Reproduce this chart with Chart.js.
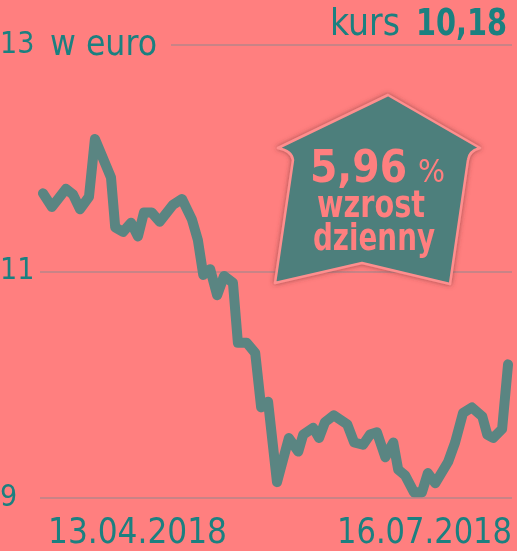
<!DOCTYPE html>
<html>
<head>
<meta charset="utf-8">
<script src="https://cdn.jsdelivr.net/npm/chart.js@4/dist/chart.umd.min.js"></script>
<style>
  html, body { margin: 0; padding: 0; background: #ff7f7f; }
  #wrap { position: relative; width: 517px; height: 551px; overflow: hidden; background: #ff7f7f; }
  #nakladka { position: absolute; left: 0; top: 0; }
</style>
</head>
<body>
<div id="wrap">
  <canvas id="wykres" width="517" height="551"></canvas>
  <svg id="nakladka" width="517" height="551">
    <defs>
      <filter id="cien" x="-20%" y="-20%" width="140%" height="140%">
        <feDropShadow dx="0" dy="0" stdDeviation="2.5" flood-color="#7a3838" flood-opacity="0.7"/>
      </filter>
    </defs>
    <rect x="38" y="38" width="133" height="16" fill="#ff7f7f"/>
    <g font-family="DejaVu Sans Condensed, DejaVu Sans, sans-serif" fill="#1b8080">
      <text x="50" y="55" font-size="36" font-weight="200" textLength="107" lengthAdjust="spacingAndGlyphs">w euro</text>
      <text x="330" y="35" font-size="38" textLength="70" lengthAdjust="spacingAndGlyphs">kurs</text>
      <text x="416" y="35" font-size="37" font-weight="700" textLength="91" lengthAdjust="spacingAndGlyphs">10,18</text>
      <text x="48" y="543" font-size="36" textLength="179" lengthAdjust="spacingAndGlyphs">13.04.2018</text>
      <text x="337" y="543" font-size="36" textLength="175" lengthAdjust="spacingAndGlyphs">16.07.2018</text>
    </g>
    <path d="M388,95 L480,148 Q469,151 468,160 L450,284 L362,263 L275,283 L293,160 Q292,151 278,148 Z"
          fill="#4d7f7b" stroke="#ff8e8e" stroke-width="2.5" stroke-linejoin="round" filter="url(#cien)"/>
    <g font-family="DejaVu Sans Condensed, DejaVu Sans, sans-serif" fill="#ff7f7f" font-weight="700">
      <text x="310" y="182" font-size="44" textLength="97" lengthAdjust="spacingAndGlyphs">5,96</text>
      <text x="418" y="182" font-size="32" font-weight="400" textLength="27" lengthAdjust="spacingAndGlyphs">%</text>
      <text x="317" y="217" font-size="38" textLength="108" lengthAdjust="spacingAndGlyphs">wzrost</text>
      <text x="313" y="250" font-size="38" textLength="122" lengthAdjust="spacingAndGlyphs">dzienny</text>
    </g>
  </svg>
</div>
<script>
"use strict";
// dni od 13.04.2018
const dni = [0, 1.8, 4.65, 6.07, 7.5, 9.3, 10.5, 13.75, 14.6, 16.2, 17.8, 19.2, 20.4, 22.0, 23.6, 26.3, 28.1, 30.1, 31.3, 32.4, 33.8, 35.2, 36.6, 38.4, 39.4, 41.2, 42.9, 44.1, 45.5, 47.3, 49.7, 51.6, 52.6, 54.6, 55.8, 57.0, 58.8, 61.5, 62.9, 64.7, 66.1, 67.5, 69.2, 70.8, 71.8, 73.2, 75.0, 76.6, 77.8, 79.3, 81.9, 83.3, 84.9, 86.7, 88.8, 89.8, 91.0, 92.8, 94];
const kursy = [11.69, 11.57, 11.73, 11.68, 11.55, 11.66, 12.17, 11.83, 11.39, 11.35, 11.43, 11.31, 11.52, 11.52, 11.44, 11.59, 11.64, 11.46, 11.28, 10.97, 11.02, 10.79, 10.96, 10.90, 10.37, 10.37, 10.28, 9.80, 9.85, 9.14, 9.53, 9.41, 9.56, 9.62, 9.53, 9.67, 9.73, 9.65, 9.49, 9.47, 9.56, 9.58, 9.36, 9.49, 9.25, 9.20, 9.05, 9.05, 9.22, 9.13, 9.32, 9.49, 9.75, 9.80, 9.72, 9.56, 9.53, 9.61, 10.18];
const podzialka = [9, 11, 13];

const punkty = dni.map((d, i) => ({ x: d, y: kursy[i] }));

new Chart(document.querySelector("#wykres"), {
    type: "line",
    data: {
        datasets: [
            {
                data: punkty,
                borderColor: "#5a8582",
                borderWidth: 10,
                borderJoinStyle: "round",
                borderCapStyle: "round",
                pointRadius: 0,
                tension: 0,
                clip: false,
            },
        ],
    },
    options: {
        responsive: false,
        animation: false,
        layout: { padding: { top: 45, bottom: 53, right: 5, left: 0 } },
        plugins: { legend: { display: false }, tooltip: { enabled: false } },
        scales: {
            x: {
                type: "linear",
                min: -0.6,
                max: 94.8,
                display: false,
            },
            y: {
                min: 9,
                max: 13,
                border: { display: false },
                grid: { color: "#c98386", lineWidth: 2, drawTicks: false },
                afterBuildTicks: (s) => {
                    s.ticks = podzialka.map((v) => ({ value: v }));
                },
                afterFit: (s) => {
                    s.width = 40;
                },
                ticks: {
                    color: "#1b8080",
                    padding: 0,
                    crossAlign: "far",
                    font: { family: "'DejaVu Sans Condensed', 'DejaVu Sans', sans-serif", size: 30, weight: 200 },
                },
            },
        },
    },
});
</script>
</body>
</html>
